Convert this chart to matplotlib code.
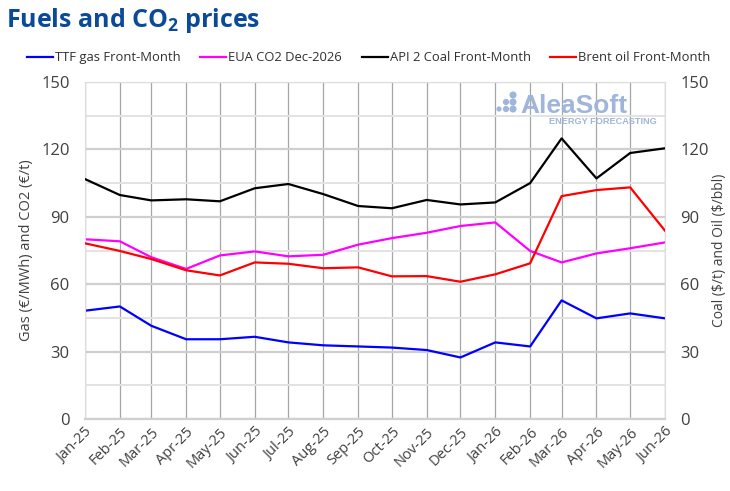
import matplotlib
matplotlib.use("Agg")
import matplotlib.pyplot as plt
from matplotlib.ticker import MultipleLocator
import pandas as pd

plt.rcParams['font.family'] = ['Open Sans', 'DejaVu Sans']
plt.rcParams['mathtext.fontset'] = 'custom'
plt.rcParams['mathtext.rm'] = 'Open Sans'
plt.rcParams['mathtext.bf'] = 'Open Sans:bold'

months = pd.date_range("2025-01-01", "2026-06-01", freq="MS")
tick_labels = [d.strftime("%b-%y") for d in months]

ttf_gas = [48.2, 50.1, 41.5, 35.5, 35.5, 36.6, 34.1, 32.8, 32.3, 31.8, 30.7, 27.4,
           34.1, 32.3, 52.8, 44.8, 47.0, 44.8]
eua_co2 = [80.0, 79.1, 72.0, 66.8, 72.8, 74.6, 72.4, 73.1, 77.6, 80.5, 82.9, 85.9,
           87.5, 74.8, 69.7, 73.7, 76.0, 78.6]
api2_coal = [106.8, 99.7, 97.3, 97.8, 96.9, 102.7, 104.6, 100.1, 94.8, 93.8, 97.5, 95.5,
             96.4, 105.0, 124.9, 107.1, 118.4, 120.5]
brent_oil = [78.2, 74.8, 71.2, 66.2, 63.9, 69.7, 69.1, 67.1, 67.5, 63.5, 63.6, 61.1,
             64.4, 69.3, 99.2, 101.9, 103.1, 83.8]

grey_txt = "#404040"

fig = plt.figure(figsize=(7.30, 4.91), dpi=100)
ax = fig.add_axes([0.1164, 0.1466, 0.7946, 0.6864])
ax2 = ax.twinx()

ax.plot(months, ttf_gas, color="#0000ff", lw=1.6, label="TTF gas Front-Month")
ax.plot(months, eua_co2, color="#ff00ff", lw=1.6, label="EUA CO2 Dec-2026")
ax2.plot(months, api2_coal, color="#000000", lw=1.6, label="API 2 Coal Front-Month")
ax2.plot(months, brent_oil, color="#ff0000", lw=1.6, label="Brent oil Front-Month")

for a in (ax, ax2):
    a.set_ylim(0, 150)
    a.yaxis.set_major_locator(MultipleLocator(30))
    a.yaxis.set_minor_locator(MultipleLocator(15))
    for s in a.spines.values():
        s.set_visible(False)
    a.tick_params(axis='y', which='both', length=0, labelsize=12, colors=grey_txt, pad=11)

ax.set_xlim(months[0], months[-1])
ax.set_xticks(months)
ax.set_xticklabels(tick_labels, rotation=45, ha='right', rotation_mode='anchor',
                   fontsize=10.5, color=grey_txt)
ax.tick_params(axis='x', length=0, pad=4)

ax.grid(axis='x', color="#a6a6a6", lw=0.9)
ax.grid(axis='y', which='major', color="#cfcfcf", lw=1.6)
ax.grid(axis='y', which='minor', color="#e3e3e3", lw=1.4)
ax.set_axisbelow(True)
ax.spines['bottom'].set_visible(True)
ax.spines['bottom'].set_color("#d0d0d0")
ax.spines['bottom'].set_linewidth(1.6)
for side in ('left', 'right', 'top'):
    ax.spines[side].set_visible(True)
    ax.spines[side].set_color("#dcdcdc")

ax.set_ylabel("Gas (€/MWh) and CO2 (€/t)", fontsize=10.5, color=grey_txt, labelpad=5)
ax2.set_ylabel(r"Coal (\$/t) and Oil (\$/bbl)", fontsize=10, color=grey_txt, labelpad=2)

h1, l1 = ax.get_legend_handles_labels()
h2, l2 = ax2.get_legend_handles_labels()
fig.legend(h1 + h2, l1 + l2, loc='center', bbox_to_anchor=(0.505, 0.882), ncol=4,
           frameon=False, fontsize=9.4, handlelength=2.0, handletextpad=0.15,
           columnspacing=1.5, labelcolor="#303030")

fig.text(0.008, 0.958, r"Fuels and CO$_\mathbf{2}$ prices", fontsize=18, fontweight='bold',
         color="#0b4a98", ha='left', va='center')

# watermark logo, drawn in pixel coordinates on an overlay
logo_c = "#9fb5d9"
lax = fig.add_axes([0, 0, 1, 1], zorder=5)
lax.set_xlim(0, 730)
lax.set_ylim(491, 0)
lax.axis('off')
dots_x = [499, 506, 506, 513, 513, 513]
dots_y = [109, 102, 109, 95, 102, 109]
dots_s = [14, 20, 20, 26, 26, 26]
lax.scatter(dots_x, dots_y, s=dots_s, color=logo_c, lw=0)
lax.text(520, 113, "AleaSoft", fontsize=19, fontweight='bold', color=logo_c,
         ha='left', va='baseline', family=['Liberation Sans', 'DejaVu Sans'])
lax.text(549, 121, "ENERGY FORECASTING", fontsize=6.6, fontweight='bold', color=logo_c,
         ha='left', va='center', family=['Liberation Sans', 'DejaVu Sans'])

fig.savefig("out.png", dpi=100)
